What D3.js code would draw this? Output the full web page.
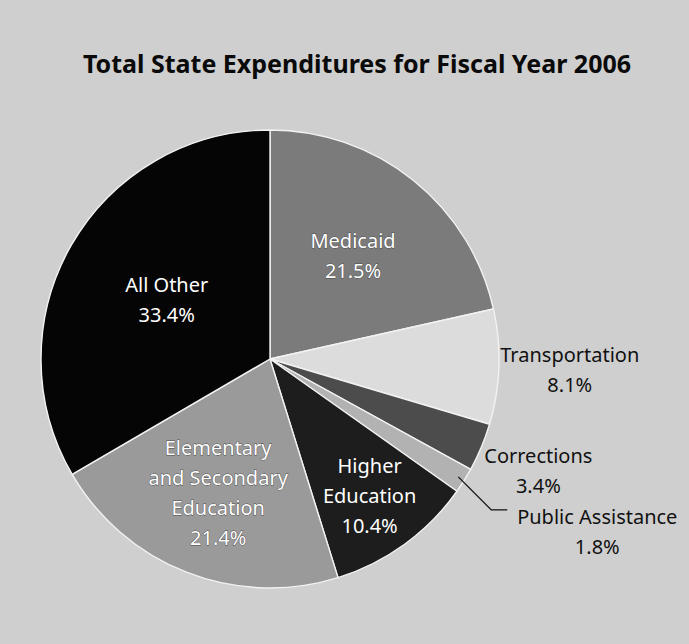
<!DOCTYPE html>
<html>
<head>
<meta charset="utf-8">
<script src="https://cdn.jsdelivr.net/npm/d3@7"></script>
<style>
  html, body { margin: 0; padding: 0; background: #cfcfcf; }
  svg { display: block; }
  text { font-family: "Noto Sans", "Open Sans", sans-serif; }
</style>
</head>
<body>
<svg id="chart" width="689" height="644"></svg>
<script>
// Spending categories, clockwise from 12 o'clock
const categories = [
  "Medicaid",
  "Transportation",
  "Corrections",
  "Public Assistance",
  "Higher Education",
  "Elementary and Secondary Education",
  "All Other"
];
// Share of total state expenditures, percent
const shares = [21.5, 8.1, 3.4, 1.8, 10.4, 21.4, 33.4];
// Label text lines for each category
const labelLines = [
  ["Medicaid"],
  ["Transportation"],
  ["Corrections"],
  ["Public Assistance"],
  ["Higher", "Education"],
  ["Elementary", "and Secondary", "Education"],
  ["All Other"]
];
const title = "Total State Expenditures for Fiscal Year 2006";

// ---- layout and styling ----
const W = 689, H = 644;
const cx = 270, cy = 359, R = 229;
const fills = {
  "Medicaid": "#7b7b7b",
  "Transportation": "#dcdcdc",
  "Corrections": "#4c4c4c",
  "Public Assistance": "#b2b2b2",
  "Higher Education": "#1d1d1d",
  "Elementary and Secondary Education": "#9a9a9a",
  "All Other": "#050505"
};
// where each label sits, as a fraction of the radius along the slice's mid angle
const labelPlacement = {
  "Medicaid": { k: 0.58, color: "#fff", halo: true },
  "Transportation": { k: 1.31, color: "#111" },
  "Corrections": { k: 1.27, color: "#111" },
  "Higher Education": { k: 0.74, color: "#fff" },
  "Elementary and Secondary Education": { k: 0.625, color: "#fff", halo: true },
  "All Other": { k: 0.52, color: "#fff" }
};
const lineGap = 30, labelSize = 20;

const svg = d3.select("#chart");

svg.append("rect").attr("width", W).attr("height", H).attr("fill", "#cfcfcf");

svg.append("text")
  .attr("x", 357).attr("y", 73)
  .attr("text-anchor", "middle")
  .attr("font-size", 25).attr("font-weight", 700)
  .attr("fill", "#0a0a0a")
  .text(title);

const data = categories.map((c, i) => ({ category: c, value: shares[i], lines: labelLines[i] }));

const pie = d3.pie().sort(null).value(d => d.value).startAngle(0).endAngle(2 * Math.PI);
const arcs = pie(data);
const arc = d3.arc().innerRadius(0).outerRadius(R);

const g = svg.append("g").attr("transform", `translate(${cx},${cy})`);

g.selectAll("path.slice")
  .data(arcs)
  .join("path")
  .attr("class", "slice")
  .attr("d", arc)
  .attr("fill", d => fills[d.data.category])
  .attr("stroke", "#f2f2f2")
  .attr("stroke-width", 1.4)
  .attr("stroke-linejoin", "round");

const mid = d => (d.startAngle + d.endAngle) / 2;
const polar = (a, r) => [Math.sin(a) * r, -Math.cos(a) * r];

// labels along the mid angle
arcs.forEach(d => {
  const p = labelPlacement[d.data.category];
  if (!p) return;
  const [x, y] = polar(mid(d), R * p.k);
  const lines = d.data.lines.concat([d.data.value.toFixed(1) + "%"]);
  const top = y - (lines.length - 1) * lineGap / 2 + labelSize * 0.36;
  const t = g.append("text")
    .attr("text-anchor", "middle")
    .attr("font-size", labelSize)
    .attr("fill", p.color);
  if (p.halo) {
    t.attr("stroke", "#4a4a4a").attr("stroke-width", 0.8).attr("paint-order", "stroke");
  }
  lines.forEach((ln, i) => {
    t.append("tspan").attr("x", x).attr("y", top + i * lineGap).text(ln);
  });
});

// Public Assistance: thin slice, labelled through a leader line
const pa = arcs.find(d => d.data.category === "Public Assistance");
const [sx, sy] = polar(mid(pa), R * 0.97);
const ex = sx + 33, ey = sy + 33;
g.append("polyline")
  .attr("points", [[sx, sy], [ex, ey], [ex + 16, ey]].map(p => p.join(",")).join(" "))
  .attr("fill", "none")
  .attr("stroke", "#111")
  .attr("stroke-width", 1.3);
const paText = g.append("text")
  .attr("text-anchor", "middle")
  .attr("font-size", labelSize)
  .attr("fill", "#111");
const paX = ex + 106;
[pa.data.lines[0], pa.data.value.toFixed(1) + "%"].forEach((ln, i) => {
  paText.append("tspan").attr("x", paX).attr("y", ey + 14 + i * lineGap).text(ln);
});
</script>
</body>
</html>
